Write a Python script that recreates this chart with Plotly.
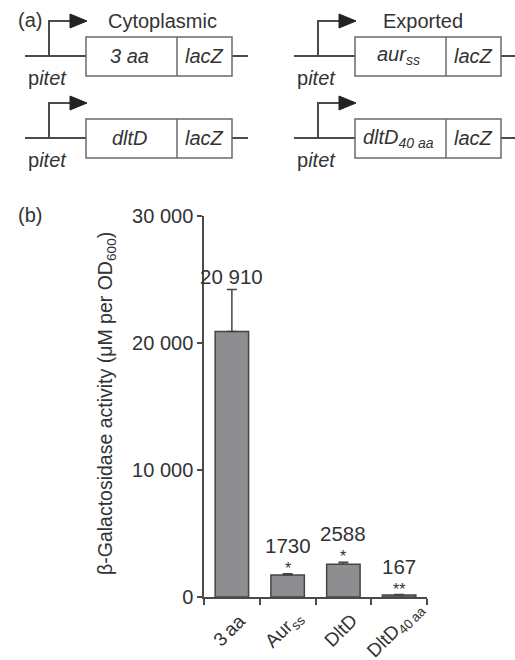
import plotly.graph_objects as go

# ---- data ----
categories = ["3 aa", "Aur_ss", "DltD", "DltD_40aa"]
category_labels = ["3\u2009aa", "Aur<sub>ss</sub>", "DltD", "DltD<sub>40\u2009aa</sub>"]
values = [20910, 1730, 2588, 167]
errors_up = [3300, 110, 140, 30]
value_labels = ["20 910", "1730", "2588", "167"]
stars = ["", "*", "*", "**"]
ytick_vals = [0, 10000, 20000, 30000]
ytick_text = ["0", "10 000", "20 000", "30 000"]

W, H = 515, 660
FONT = "Liberation Sans, Arial, sans-serif"
TXT = "#333333"
LINE = "#4a4a4a"
BOX = "#6a6a6a"


def px(x):
    return x / W


def py(y):
    return 1 - y / H


def note(x, y, text, size=20, **kw):
    d = dict(x=px(x), y=py(y), xref="paper", yref="paper", text=text,
             showarrow=False, xanchor="center", yanchor="middle",
             font=dict(size=size, color=TXT, family=FONT))
    d.update(kw)
    return d


fig = go.Figure()
fig.add_trace(go.Bar(
    x=categories, y=values, width=0.6,
    marker=dict(color="#8e8e91", line=dict(color="#454545", width=1.5)),
    error_y=dict(type="data", symmetric=False, array=errors_up,
                 arrayminus=[0] * len(values), color="#454545",
                 thickness=1.5, width=5),
    showlegend=False, hoverinfo="skip",
))

annotations = []
for c, cl, v, e, lab, s in zip(categories, category_labels, values, errors_up,
                               value_labels, stars):
    top = v + e
    annotations.append(dict(x=c, y=top, xref="x", yref="y", text=lab,
                            showarrow=False, xanchor="center", yanchor="bottom",
                            yshift=15 if s else 0,
                            font=dict(size=20.5, color=TXT, family=FONT)))
    if s:
        annotations.append(dict(x=c, y=top, xref="x", yref="y", text=s,
                                showarrow=False, xanchor="center", yanchor="bottom",
                                yshift=-5,
                                font=dict(size=16, color=TXT, family=FONT)))
    # rotated category label, centred under its bar
    annotations.append(dict(x=c, y=py(630), xref="x", yref="paper", text=cl,
                            showarrow=False, xanchor="center", yanchor="middle",
                            xshift=-3, textangle=-45,
                            font=dict(size=19, color=TXT, family=FONT)))

# panel labels and axis title
annotations += [
    note(30, 20, "(a)"),
    note(30, 215, "(b)"),
    note(107, 404, "\u03b2-Galactosidase activity (\u03bcM per OD<sub>600</sub>)",
         size=19.5, textangle=-90),
]

# ---- schematic (a) ----
shapes = []
constructs = [
    # (col_x_offset, row_y_offset, header, left text)
    (0, 0, "Cytoplasmic", "<i>3 aa</i>"),
    (0, 82, None, "<i>dltD</i>"),
    (269, 0, "Exported", "<i>aur<sub>ss</sub></i>"),
    (269, 82, None, "<i>dltD<sub>40 aa</sub></i>"),
]
for dx, dy, header, ltxt in constructs:
    base = 56 + dy
    prom = 49 + dx
    box_l, box_r = 86 + dx, 232 + dx
    div = 177 + dx
    line_l = 25 + dx
    line_r = min(248 + dx, W)
    top_y = 21 + dy
    # baseline
    shapes.append(dict(type="line", xref="paper", yref="paper",
                       x0=px(line_l), x1=px(box_l), y0=py(base), y1=py(base),
                       line=dict(color=LINE, width=2)))
    shapes.append(dict(type="line", xref="paper", yref="paper",
                       x0=px(box_r), x1=px(line_r), y0=py(base), y1=py(base),
                       line=dict(color=LINE, width=2)))
    # promoter arrow
    shapes.append(dict(type="path", xref="paper", yref="paper",
                       path=f"M {px(prom)} {py(base)} L {px(prom)} {py(top_y)} L {px(prom + 24)} {py(top_y)}",
                       line=dict(color=LINE, width=2)))
    shapes.append(dict(type="path", xref="paper", yref="paper",
                       path=f"M {px(prom + 21)} {py(top_y - 7)} L {px(prom + 38)} {py(top_y)} L {px(prom + 21)} {py(top_y + 7)} Z",
                       fillcolor="#222222", line=dict(color="#222222", width=1)))
    # box
    shapes.append(dict(type="rect", xref="paper", yref="paper",
                       x0=px(box_l), x1=px(box_r), y0=py(base - 19), y1=py(base + 20),
                       line=dict(color=BOX, width=1.5), fillcolor="white"))
    shapes.append(dict(type="line", xref="paper", yref="paper",
                       x0=px(div), x1=px(div), y0=py(base - 19), y1=py(base + 20),
                       line=dict(color=BOX, width=1.5)))
    annotations.append(note((box_l + div) / 2 - 2, base, ltxt))
    annotations.append(note((div + box_r) / 2, base, "<i>lacZ</i>"))
    annotations.append(note(prom - 2, base + 22, "p<i>itet</i>"))
    if header:
        annotations.append(note(dx + 162 - (8 if dx else 0), 21, header))

fig.update_layout(
    width=W, height=H,
    margin=dict(l=0, r=0, t=0, b=0, pad=0, autoexpand=False),
    paper_bgcolor="white", plot_bgcolor="white",
    font=dict(family=FONT, size=20, color=TXT),
    xaxis=dict(domain=[px(204), px(427)], range=[-0.5, 3.5], automargin=False,
               showline=True, linecolor=LINE, linewidth=1.5,
               ticks="outside", tickson="boundaries", ticklen=6,
               tickcolor=LINE, tickwidth=1.5, showticklabels=False,
               showgrid=False, zeroline=False, fixedrange=True),
    yaxis=dict(domain=[py(597), py(216)], range=[0, 30000], automargin=False,
               tickvals=ytick_vals, ticktext=ytick_text,
               showline=True, linecolor=LINE, linewidth=1.5,
               ticks="outside", ticklen=5, tickcolor=LINE, tickwidth=1.5,
               tickfont=dict(size=20, color=TXT, family=FONT),
               showgrid=False, zeroline=False, fixedrange=True),
    shapes=shapes,
    annotations=annotations,
)

fig.write_html("out.html", config={"displayModeBar": False},
               post_script="document.body.style.margin='0';document.body.style.padding='0';")
